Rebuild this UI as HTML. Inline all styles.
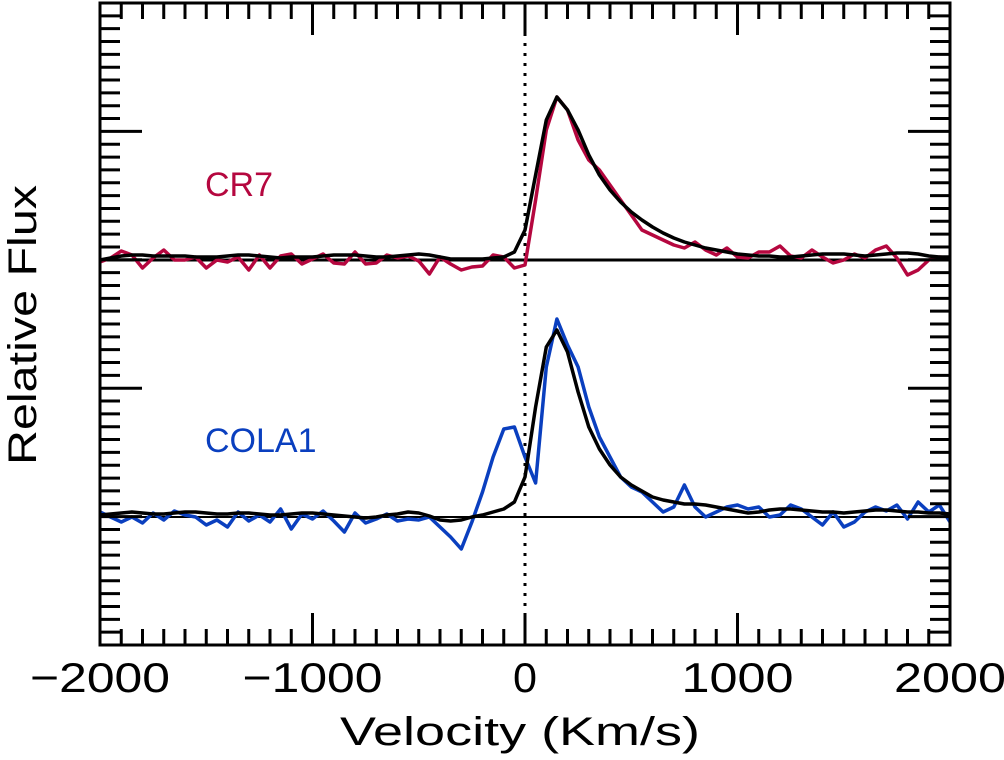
<!DOCTYPE html>
<html><head><meta charset="utf-8"><style>
html,body{margin:0;padding:0;background:#fff;}
svg{display:block;font-family:"Liberation Sans",sans-serif;}
</style></head><body>
<svg id="chart" width="1004" height="760" viewBox="0 0 1004 760" xmlns="http://www.w3.org/2000/svg">
<g id="grid"></g>
<g id="series"></g>
<g id="axes"></g>
<text x="205" y="196" font-size="34" fill="#b5073f">CR7</text>
<text x="205" y="452" font-size="34" fill="#0a3fbf">COLA1</text>
<text x="340" y="745" font-size="40" textLength="360" lengthAdjust="spacingAndGlyphs">Velocity (Km/s)</text>
<text transform="translate(36,465) rotate(-90)" font-size="40" textLength="280" lengthAdjust="spacingAndGlyphs">Relative Flux</text>
</svg>
<script>
const velocities = [];
for (let v = -2000; v <= 2000; v += 50) velocities.push(v);
const xTickLabels = ["\u22122000","\u22121000","0","1000","2000"];
const xTickValues = [-2000,-1000,0,1000,2000];
const cr7Obs = [-2,2,9,5,-8,2,10,0,0,3,-8,0,-2,3,-10,5,-8,4,6,-4,1,6,-3,-4,8,-4,-3,5,2,4,-1,-14,3,-4,-10,-7,-6,5,3,-8,-5,60,130,163,150,120,100,90,75,60,45,30,25,20,15,12,18,10,5,12,3,2,8,8,14,4,2,10,3,-3,0,6,2,10,14,2,-15,-10,0,3,2];
const cr7Fit = [0,2,4,5,5,4,4,4,4,3,3,3,4,5,5,4,3,2,3,3,3,4,5,5,5,4,3,3,4,5,6,5,3,1,1,1,1,2,3,8,30,85,140,163,150,130,105,85,70,58,48,40,33,27,22,18,15,12,10,8,6,5,4,4,3,3,4,5,6,6,6,5,4,5,6,7,7,6,4,3,3];
const cola1Obs = [5,0,-5,0,-6,4,-3,6,2,0,-8,-3,-10,5,-4,2,-5,8,-12,3,-2,6,-4,-15,4,-6,-2,3,-4,-2,-3,0,-10,-20,-32,-5,25,60,88,90,60,34,150,198,172,150,110,80,60,40,30,25,15,5,10,32,10,0,5,10,12,8,10,0,2,12,8,0,-8,5,-10,-5,5,10,6,12,-2,15,5,12,-5];
const cola1Fit = [2,3,4,5,4,3,3,4,5,5,4,3,3,4,4,3,2,2,3,4,4,3,2,1,0,-1,0,2,3,5,4,1,-3,-4,-3,0,2,5,8,15,40,110,170,187,165,125,90,68,52,40,32,26,20,17,15,13,13,12,10,8,6,4,5,7,8,8,7,6,5,5,4,5,6,7,7,6,5,5,4,4,3];
const cr7Base = 260, cola1Base = 517;
function xS(v){ return 100 + (v + 2000) * 850 / 4000; }
function yS(base, f){ return base - f; }
const NS = "http://www.w3.org/2000/svg";
const grid = document.getElementById('grid');
const ser = document.getElementById('series');
const axes = document.getElementById('axes');
function mk(tag, attrs, parent){ const e = document.createElementNS(NS, tag); for (const k in attrs) e.setAttribute(k, attrs[k]); parent.appendChild(e); return e; }
let zl = mk('line', {x1:xS(0), x2:xS(0), y1:3, y2:645, stroke:'#000', 'stroke-width':3, 'stroke-dasharray':'3 7'}, grid);


let b1 = mk('line', {x1:100, x2:950, y1:cr7Base, y2:cr7Base, stroke:'#000', 'stroke-width':3}, grid);


let b2 = mk('line', {x1:100, x2:950, y1:cola1Base, y2:cola1Base, stroke:'#000', 'stroke-width':2}, grid);


function pathFor(arr, base){ return arr.map((f,i) => (i ? 'L' : 'M') + xS(velocities[i]).toFixed(1) + ' ' + yS(base, f).toFixed(1)).join(' '); }
let p1 = mk('path', {d:pathFor(cr7Obs, cr7Base), fill:'none', stroke:'#b5073f', 'stroke-width':3.5, 'stroke-linejoin':'round'}, ser);


let p2 = mk('path', {d:pathFor(cr7Fit, cr7Base), fill:'none', stroke:'#000', 'stroke-width':3.5, 'stroke-linejoin':'round'}, ser);


let p3 = mk('path', {d:pathFor(cola1Obs, cola1Base), fill:'none', stroke:'#0a3fbf', 'stroke-width':3.5, 'stroke-linejoin':'round'}, ser);


let p4 = mk('path', {d:pathFor(cola1Fit, cola1Base), fill:'none', stroke:'#000', 'stroke-width':3.5, 'stroke-linejoin':'round'}, ser);


let fr = mk('rect', {x:100, y:3, width:850, height:642, fill:'none', stroke:'#000', 'stroke-width':3}, axes);


for (let v = -2000; v <= 2000; v += 100) {
  const major = (v % 1000 === 0);
  const L = major ? 32 : 16, x = xS(v);
  mk('line', {x1:x, x2:x, y1:645, y2:645 - L, stroke:'#000', 'stroke-width':3}, axes);
  mk('line', {x1:x, x2:x, y1:3, y2:3 + L, stroke:'#000', 'stroke-width':3}, axes);
}
for (let k = 0; k <= 50; k++) {
  const y = 3 + k * 642 / 50, major = (k % 10 === 0);
  const L = major ? 42 : 20;
  mk('line', {x1:100, x2:100 + L, y1:y, y2:y, stroke:'#000', 'stroke-width':3}, axes);
  mk('line', {x1:950, x2:950 - L, y1:y, y2:y, stroke:'#000', 'stroke-width':3}, axes);
}
xTickValues.forEach((v, i) => {
  const s = xTickLabels[i];
  const w = s.length === 1 ? 24 : s.length * 28;
  const t = mk('text', {x:xS(v), y:692, 'font-size':42, 'text-anchor':'middle', textLength:w, lengthAdjust:'spacingAndGlyphs'}, axes);
  t.textContent = s;
  
  
});
</script>
</body></html>
